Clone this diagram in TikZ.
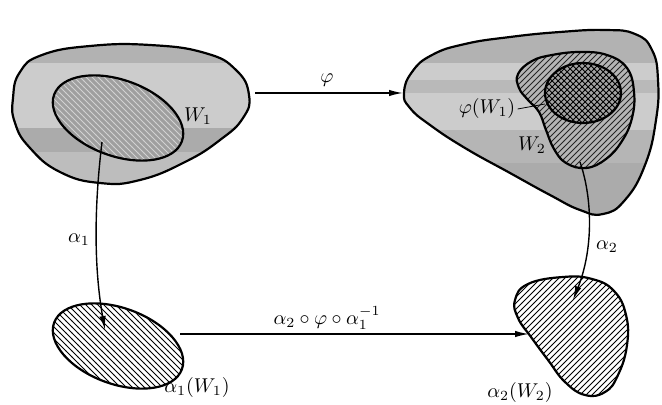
\documentclass[tikz,border=0pt]{standalone}
\usetikzlibrary{arrows.meta,patterns}
\begin{document}
\begin{tikzpicture}[x=0.5pt,y=-0.5pt,
  outline/.style={line width=1.1pt},
  arr/.style={line width=0.7pt,-{Latex[length=7pt,width=3.2pt]}},
  lbl/.style={inner sep=1pt}]
\useasboundingbox (0,0) rectangle (662,405);

\def\blobA{plot[smooth cycle,tension=0.8] coordinates {(13,98) (20,72) (42,55) (90,46) (150,45) (205,53) (236,70) (249,95) (243,118) (220,140) (185,162) (140,180) (100,183) (60,172) (30,148) (15,123)}}
\def\blobB{plot[smooth cycle,tension=0.8] coordinates {(404,93) (412,72) (432,55) (465,44) (510,37) (560,32) (605,30) (635,34) (652,50) (658,80) (656,120) (645,165) (625,200) (603,214) (580,210) (550,195) (510,173) (465,148) (430,125) (410,108)}}
\def\blobC{plot[smooth cycle,tension=0.7] coordinates {(518,74) (532,61) (552,55) (580,52) (607,55) (627,68) (634,92) (632,118) (622,141) (606,159) (586,168) (566,163) (554,149) (546,130) (539,112) (528,100) (519,88)}}
\def\blobD{plot[smooth cycle,tension=0.75] coordinates {(563,277) (592,279) (614,291) (626,315) (627,345) (618,375) (605,392) (585,395) (565,382) (548,360) (531,337) (518,318) (515,300) (528,284)}}

% ---- top-left region
\begin{scope}
  \clip \blobA;
  \fill[gray!60] (0,0) rectangle (260,200);
  \fill[gray!40] (0,63) rectangle (260,128);
  \fill[gray!66] (0,128) rectangle (260,152);
  \fill[gray!52] (0,152) rectangle (260,200);
\end{scope}
\draw[outline] \blobA;
\fill[gray!75, rotate around={-20:(118,118)}] (118,118) ellipse [x radius=34pt, y radius=19pt];
\fill[pattern=north west lines, pattern color=gray!35, rotate around={-20:(118,118)}] (118,118) ellipse [x radius=34pt, y radius=19pt];
\draw[outline, rotate around={-20:(118,118)}] (118,118) ellipse [x radius=34pt, y radius=19pt];

% ---- top-right region
\begin{scope}
  \clip \blobB;
  \fill[gray!60] (390,0) rectangle (662,230);
  \fill[gray!40] (390,63) rectangle (662,80);
  \fill[gray!55] (390,80) rectangle (662,93);
  \fill[gray!40] (390,93) rectangle (662,130);
  \fill[gray!58] (390,130) rectangle (662,163);
  \fill[gray!66] (390,163) rectangle (662,230);
\end{scope}
\draw[outline] \blobB;
\fill[gray!58] \blobC;
\fill[pattern=north east lines, pattern color=black!85] \blobC;
\draw[outline] \blobC;
\fill[gray!72] (583,93) ellipse [x radius=19pt, y radius=15pt];
\fill[pattern=crosshatch, pattern color=black] (583,93) ellipse [x radius=19pt, y radius=15pt];
\draw[outline] (583,93) ellipse [x radius=19pt, y radius=15pt];

% ---- bottom regions
\fill[pattern=north west lines, rotate around={-20:(118,346)}] (118,346) ellipse [x radius=34pt, y radius=19pt];
\draw[outline, rotate around={-20:(118,346)}] (118,346) ellipse [x radius=34pt, y radius=19pt];
\fill[pattern=north east lines] \blobD;
\draw[outline] \blobD;

% ---- labels
\node[lbl] (lW1) at (198,116) {$W_1$};
\node[lbl] (lphi) at (327,80) {$\varphi$};
\node[lbl] (lphiW1) at (487,109) {$\varphi(W_1)$};
\node[lbl] (lW2) at (532,145) {$W_2$};
\node[lbl] (la1) at (79,240) {$\alpha_1$};
\node[lbl] (la2) at (607,247) {$\alpha_2$};
\node[lbl] (lcomp) at (327,318) {$\alpha_2\circ\varphi\circ\alpha_1^{-1}$};
\node[lbl] (la1W1) at (197,387) {$\alpha_1(W_1)$};
\node[lbl] (la2W2) at (520,392) {$\alpha_2(W_2)$};

% ---- connector end points
\coordinate (phiS) at (255,93);
\coordinate (phiE) at (403,93);
\coordinate (a1S) at (102,142);
\coordinate (a1E) at (105,330);
\coordinate (a2S) at (580,162);
\coordinate (a2E) at (573,300);
\coordinate (cS) at (180,334);
\coordinate (cE) at (529,334);
\coordinate (phiW1pt) at (545,104);

% ---- connectors
\draw[arr] (phiS) -- (phiE);
\draw[arr] (a1S) .. controls (95,200) and (93,262) .. (a1E);
\draw[arr] (a2S) .. controls (593,200) and (593,250) .. (a2E);
\draw[arr] (cS) -- (cE);
\draw[line width=0.4pt] (lphiW1.east) -- (phiW1pt);
\end{tikzpicture}
\end{document}
